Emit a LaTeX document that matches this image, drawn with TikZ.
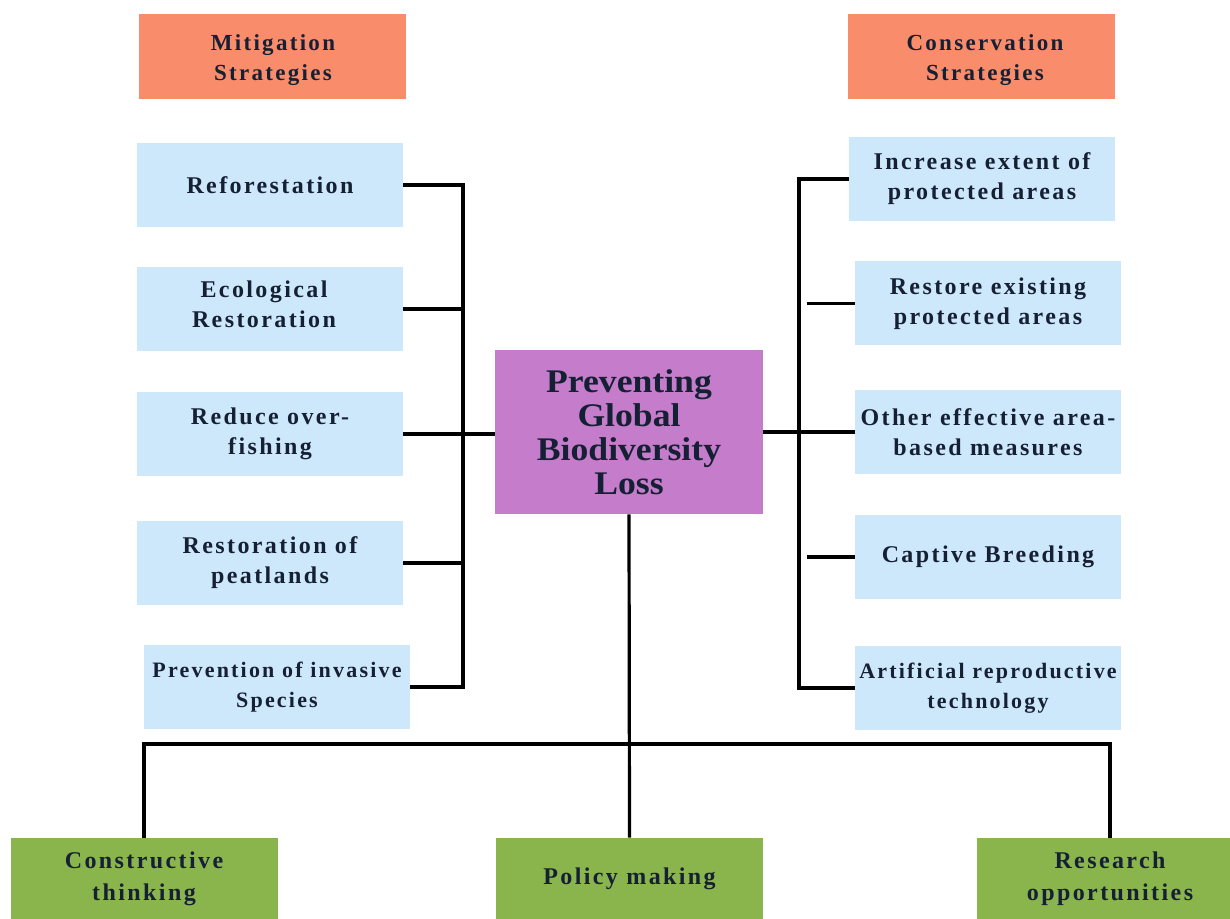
\documentclass[tikz,border=0pt]{standalone}
\usepackage{fontspec}
\setmainfont{Liberation Serif}
\newfontfamily\spacedfont[LetterSpace=10]{Liberation Serif}
\newfontfamily\corefont[FakeStretch=1.08]{Liberation Serif}
\definecolor{salmon}{RGB}{249,140,107}
\definecolor{paleblue}{RGB}{205,232,250}
\definecolor{orchid}{RGB}{196,124,203}
\definecolor{leaf}{RGB}{138,181,77}
\definecolor{navy}{RGB}{22,32,52}
\begin{document}
\begin{tikzpicture}[x=0.5pt,y=-0.5pt,
  basebox/.style={inner sep=0pt, align=center, text=navy},
  headbox/.style={basebox, fill=salmon, minimum width=133.5pt, minimum height=42.5pt},
  headtext/.style={basebox, font=\spacedfont\bfseries\fontsize{11.5}{15}\selectfont},
  itemtext/.style={basebox, font=\spacedfont\bfseries\fontsize{12}{15}\selectfont},
  itembox/.style={itemtext, fill=paleblue, minimum width=133pt, minimum height=42pt},
  smallitem/.style={itembox, font=\spacedfont\bfseries\fontsize{11}{15}\selectfont},
  corebox/.style={basebox, fill=orchid, minimum width=134pt, minimum height=82pt,
    font=\corefont\bfseries\fontsize{16.5}{17}\selectfont},
  footbox/.style={basebox, fill=leaf, minimum width=133.5pt, minimum height=41pt,
    font=\spacedfont\bfseries\fontsize{12}{16}\selectfont},
  bus/.style={draw=black, line width=1.6pt}]
\useasboundingbox (0,0) rectangle (1230,919);
\fill[white] (0,0) rectangle (1230,919);

% headings
\node[headbox] (mit) at (272.5,56.5) {};
\node[headtext] (mitT) at (273,60) {Mitigation\\Strategies};
\node[headbox] (con) at (981.5,56.5) {};
\node[headtext] (conT) at (985,60) {Conservation\\Strategies};

% left items
\node[itembox] (L1) at (270,185) {Reforestation};
\node[itembox] (L2) at (270,309) {};
\node[itemtext] (L2T) at (264,304.5) {Ecological\\Restoration};
\node[itembox] (L3) at (270,434) {Reduce over-\\fishing};
\node[itembox] (L4) at (270,563) {Restoration of\\peatlands};
\node[smallitem] (L5) at (277,687) {Prevention of invasive\\Species};

% right items
\node[itembox] (R1) at (982,179) {Increase extent of\\protected areas};
\node[itembox] (R2) at (988,303.5) {Restore existing\\protected areas};
\node[itembox] (R3) at (988,432) {Other effective area-\\based measures};
\node[itembox] (R4) at (988,557) {Captive Breeding};
\node[smallitem] (R5) at (988,688) {Artificial reproductive\\technology};

% core
\node[corebox] (core) at (629,432) {Preventing\\Global\\Biodiversity\\Loss};

% footer
\node[footbox] (F1) at (144,879) {Constructive\\thinking};
\node[footbox] (F2) at (629.5,879) {Policy making};
\node[footbox] (F3) at (1110,879) {Research\\opportunities};

% helper coordinates
\coordinate (lbb) at (463,687);
\coordinate (rbb) at (799,688);
\coordinate (rgap) at (807,0);
\coordinate (hb) at (629,744);

% left bus
\draw[bus] (L1.east) -| (lbb) -- (L5.east);
\draw[bus] (L2.east) -- (L2.east -| lbb);
\draw[bus] (L4.east) -- (L4.east -| lbb);
\draw[bus] (L3.east) -- (core.west |- L3.east);

% right bus
\draw[bus] (R1.west) -| (rbb) -- (R5.west);
\draw[bus] (R2.west) -- (R2.west -| rgap);
\draw[bus] (R4.west) -- (R4.west -| rgap);
\draw[bus] (core.east) -- (R3.west);

% bottom
\draw[bus] (core.south) -- (F2.north);
\draw[bus] (F1.north) |- (hb) -| (F3.north);
\end{tikzpicture}
\end{document}
